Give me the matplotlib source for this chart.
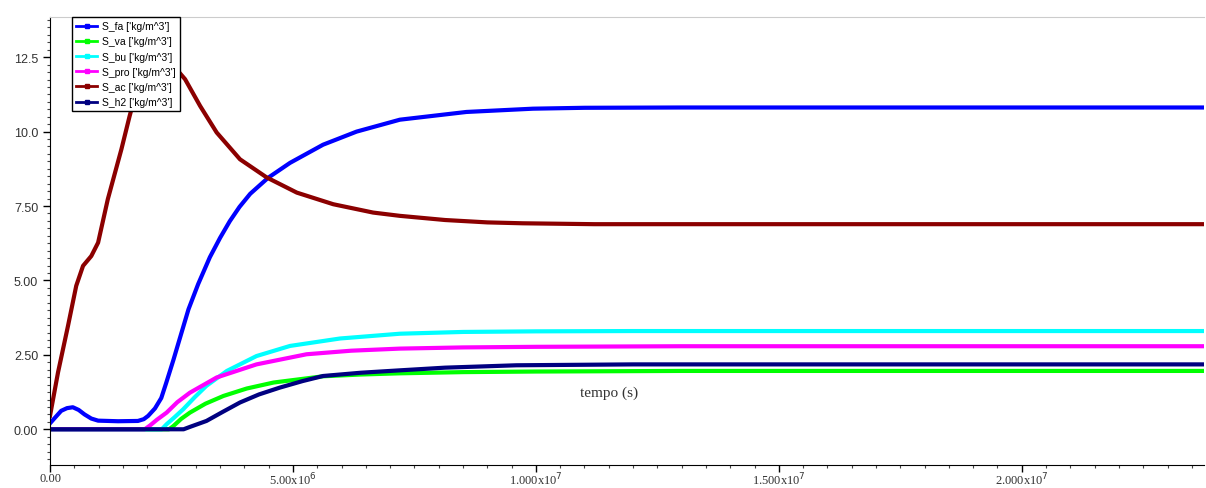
import matplotlib.pyplot as plt
from matplotlib.lines import Line2D
from matplotlib.ticker import MultipleLocator

# tempo (s) e concentracoes
t_fa = [0, 1.2e5, 2.3e5, 3.5e5, 4.7e5, 5.9e5, 7.1e5, 8.5e5, 9.9e5, 1.4e6, 1.81e6, 1.93e6,
        2.02e6, 2.16e6, 2.29e6, 2.39e6, 2.54e6, 2.64e6, 2.85e6, 3.05e6, 3.29e6, 3.5e6,
        3.7e6, 3.9e6, 4.12e6, 4.49e6, 4.94e6, 5.62e6, 6.31e6, 7.2e6, 8.57e6, 9.94e6,
        1.1e7, 1.3e7, 2.4e7]
s_fa = [0.20, 0.42, 0.62, 0.71, 0.74, 0.65, 0.50, 0.36, 0.29, 0.27, 0.28, 0.34,
        0.45, 0.70, 1.05, 1.55, 2.33, 2.88, 4.03, 4.88, 5.78, 6.43,
        6.99, 7.47, 7.91, 8.45, 8.95, 9.56, 10.00, 10.40, 10.66, 10.77,
        10.80, 10.81, 10.81]

t_va = [0, 2.45e6, 2.54e6, 2.7e6, 2.88e6, 3.2e6, 3.57e6, 4.05e6, 4.6e6, 5.62e6, 6.4e6,
        7.2e6, 8.5e6, 1.0e7, 1.3e7, 2.4e7]
s_va = [0, 0, 0.11, 0.35, 0.56, 0.86, 1.12, 1.37, 1.57, 1.78, 1.84,
        1.88, 1.92, 1.94, 1.96, 1.96]

t_bu = [0, 2.3e6, 2.4e6, 2.56e6, 2.74e6, 2.98e6, 3.22e6, 3.64e6, 4.25e6, 4.94e6, 5.97e6,
        7.2e6, 8.5e6, 1.0e7, 1.2e7, 2.4e7]
s_bu = [0, 0, 0.17, 0.40, 0.67, 1.08, 1.46, 1.96, 2.46, 2.80, 3.05,
        3.21, 3.27, 3.29, 3.30, 3.30]

t_pro = [0, 1.95e6, 2.06e6, 2.2e6, 2.4e6, 2.62e6, 2.88e6, 3.43e6, 4.25e6, 5.28e6, 6.2e6,
         7.2e6, 8.5e6, 1.0e7, 1.3e7, 2.4e7]
s_pro = [0, 0, 0.13, 0.32, 0.56, 0.91, 1.23, 1.74, 2.18, 2.52, 2.64,
         2.71, 2.75, 2.77, 2.79, 2.79]

t_ac = [0, 1.65e5, 3.7e5, 5.4e5, 6.8e5, 8.5e5, 9.9e5, 1.19e6, 1.47e6, 1.64e6, 1.8e6,
        2.0e6, 2.2e6, 2.4e6, 2.6e6, 2.78e6, 3.09e6, 3.43e6, 3.91e6, 4.46e6, 5.08e6,
        5.83e6, 6.65e6, 7.2e6, 8.13e6, 9.0e6, 9.73e6, 1.12e7, 2.4e7]
s_ac = [0.45, 1.91, 3.47, 4.82, 5.49, 5.82, 6.27, 7.73, 9.41, 10.53, 11.5,
        12.2, 12.45, 12.35, 12.1, 11.76, 10.86, 9.97, 9.07, 8.46, 7.95,
        7.56, 7.28, 7.17, 7.03, 6.95, 6.92, 6.89, 6.89]

t_h2 = [0, 2.75e6, 2.88e6, 3.22e6, 3.55e6, 3.91e6, 4.3e6, 4.73e6, 5.2e6, 5.62e6, 6.4e6,
        7.2e6, 8.13e6, 9.6e6, 1.2e7, 2.4e7]
s_h2 = [0, 0, 0.08, 0.28, 0.58, 0.90, 1.17, 1.40, 1.62, 1.79, 1.90,
        1.98, 2.07, 2.15, 2.18, 2.18]

series = [
    ("S_fa ['kg/m^3']", t_fa, s_fa, "#0000ff"),
    ("S_va ['kg/m^3']", t_va, s_va, "#00ff00"),
    ("S_bu ['kg/m^3']", t_bu, s_bu, "#00ffff"),
    ("S_pro ['kg/m^3']", t_pro, s_pro, "#ff00ff"),
    ("S_ac ['kg/m^3']", t_ac, s_ac, "#8b0000"),
    ("S_h2 ['kg/m^3']", t_h2, s_h2, "#000080"),
]

x_ticks = [0, 5e6, 1e7, 1.5e7, 2e7]
x_labels = ["0.00", r"5.00x10$^{6}$", r"1.000x10$^{7}$", r"1.500x10$^{7}$", r"2.000x10$^{7}$"]
y_ticks = [0, 2.5, 5, 7.5, 10, 12.5]
y_labels = ["0.00", "2.50", "5.00", "7.50", "10.0", "12.5"]

fig = plt.figure(figsize=(12.06, 4.89), dpi=100)
ax = fig.add_axes([50 / 1206, 1 - 466 / 489, 1154 / 1206, 448 / 489])

for name, t, s, c in series:
    ax.plot(t, s, color=c, lw=3.0, solid_joinstyle="round")

ax.set_xlim(0, 2.375e7)
ax.set_ylim(-1.2, 13.85)

ax.set_yticks(y_ticks)
ax.set_yticklabels(y_labels, fontsize=9, color="#333333", family="Liberation Sans")
ax.yaxis.set_minor_locator(MultipleLocator(0.25))
ax.set_xticks(x_ticks)
ax.set_xticklabels([])
ax.xaxis.set_minor_locator(MultipleLocator(5e5))
ax.tick_params(which="major", direction="out", length=5, width=1)
ax.tick_params(which="minor", direction="out", length=2.5, width=0.8, color="#444444")

# rotulos do eixo x, colados na borda de baixo como no original
xt = ax.get_xaxis_transform()
for x, lab in zip(x_ticks, x_labels):
    y0 = -0.042 if x == 0 else -0.049
    ax.text(x, y0, lab, transform=xt, ha="center", va="bottom", fontsize=9,
            color="#333333", family="Liberation Serif", clip_on=False)

ax.text(1.15e7, 1.24, "tempo (s)", ha="center", va="center", fontsize=11,
        color="#333333", family="Liberation Serif")

ax.spines["right"].set_visible(False)
ax.spines["top"].set_color("#cccccc")
ax.spines["top"].set_linewidth(0.8)

handles = [Line2D([0], [0], color=c, lw=2, marker="s", markersize=3) for _, _, _, c in series]
leg = ax.legend(handles, [n for n, _, _, _ in series], loc="upper left",
                bbox_to_anchor=(22 / 1154, 1.0), borderaxespad=0,
                prop={"family": "Liberation Sans", "size": 7.5}, fancybox=False,
                framealpha=1, edgecolor="black", handlelength=2.0, handletextpad=0.5,
                labelspacing=0.5, borderpad=0.4)
leg.get_frame().set_linewidth(1.0)

fig.savefig("out.png", dpi=100)
